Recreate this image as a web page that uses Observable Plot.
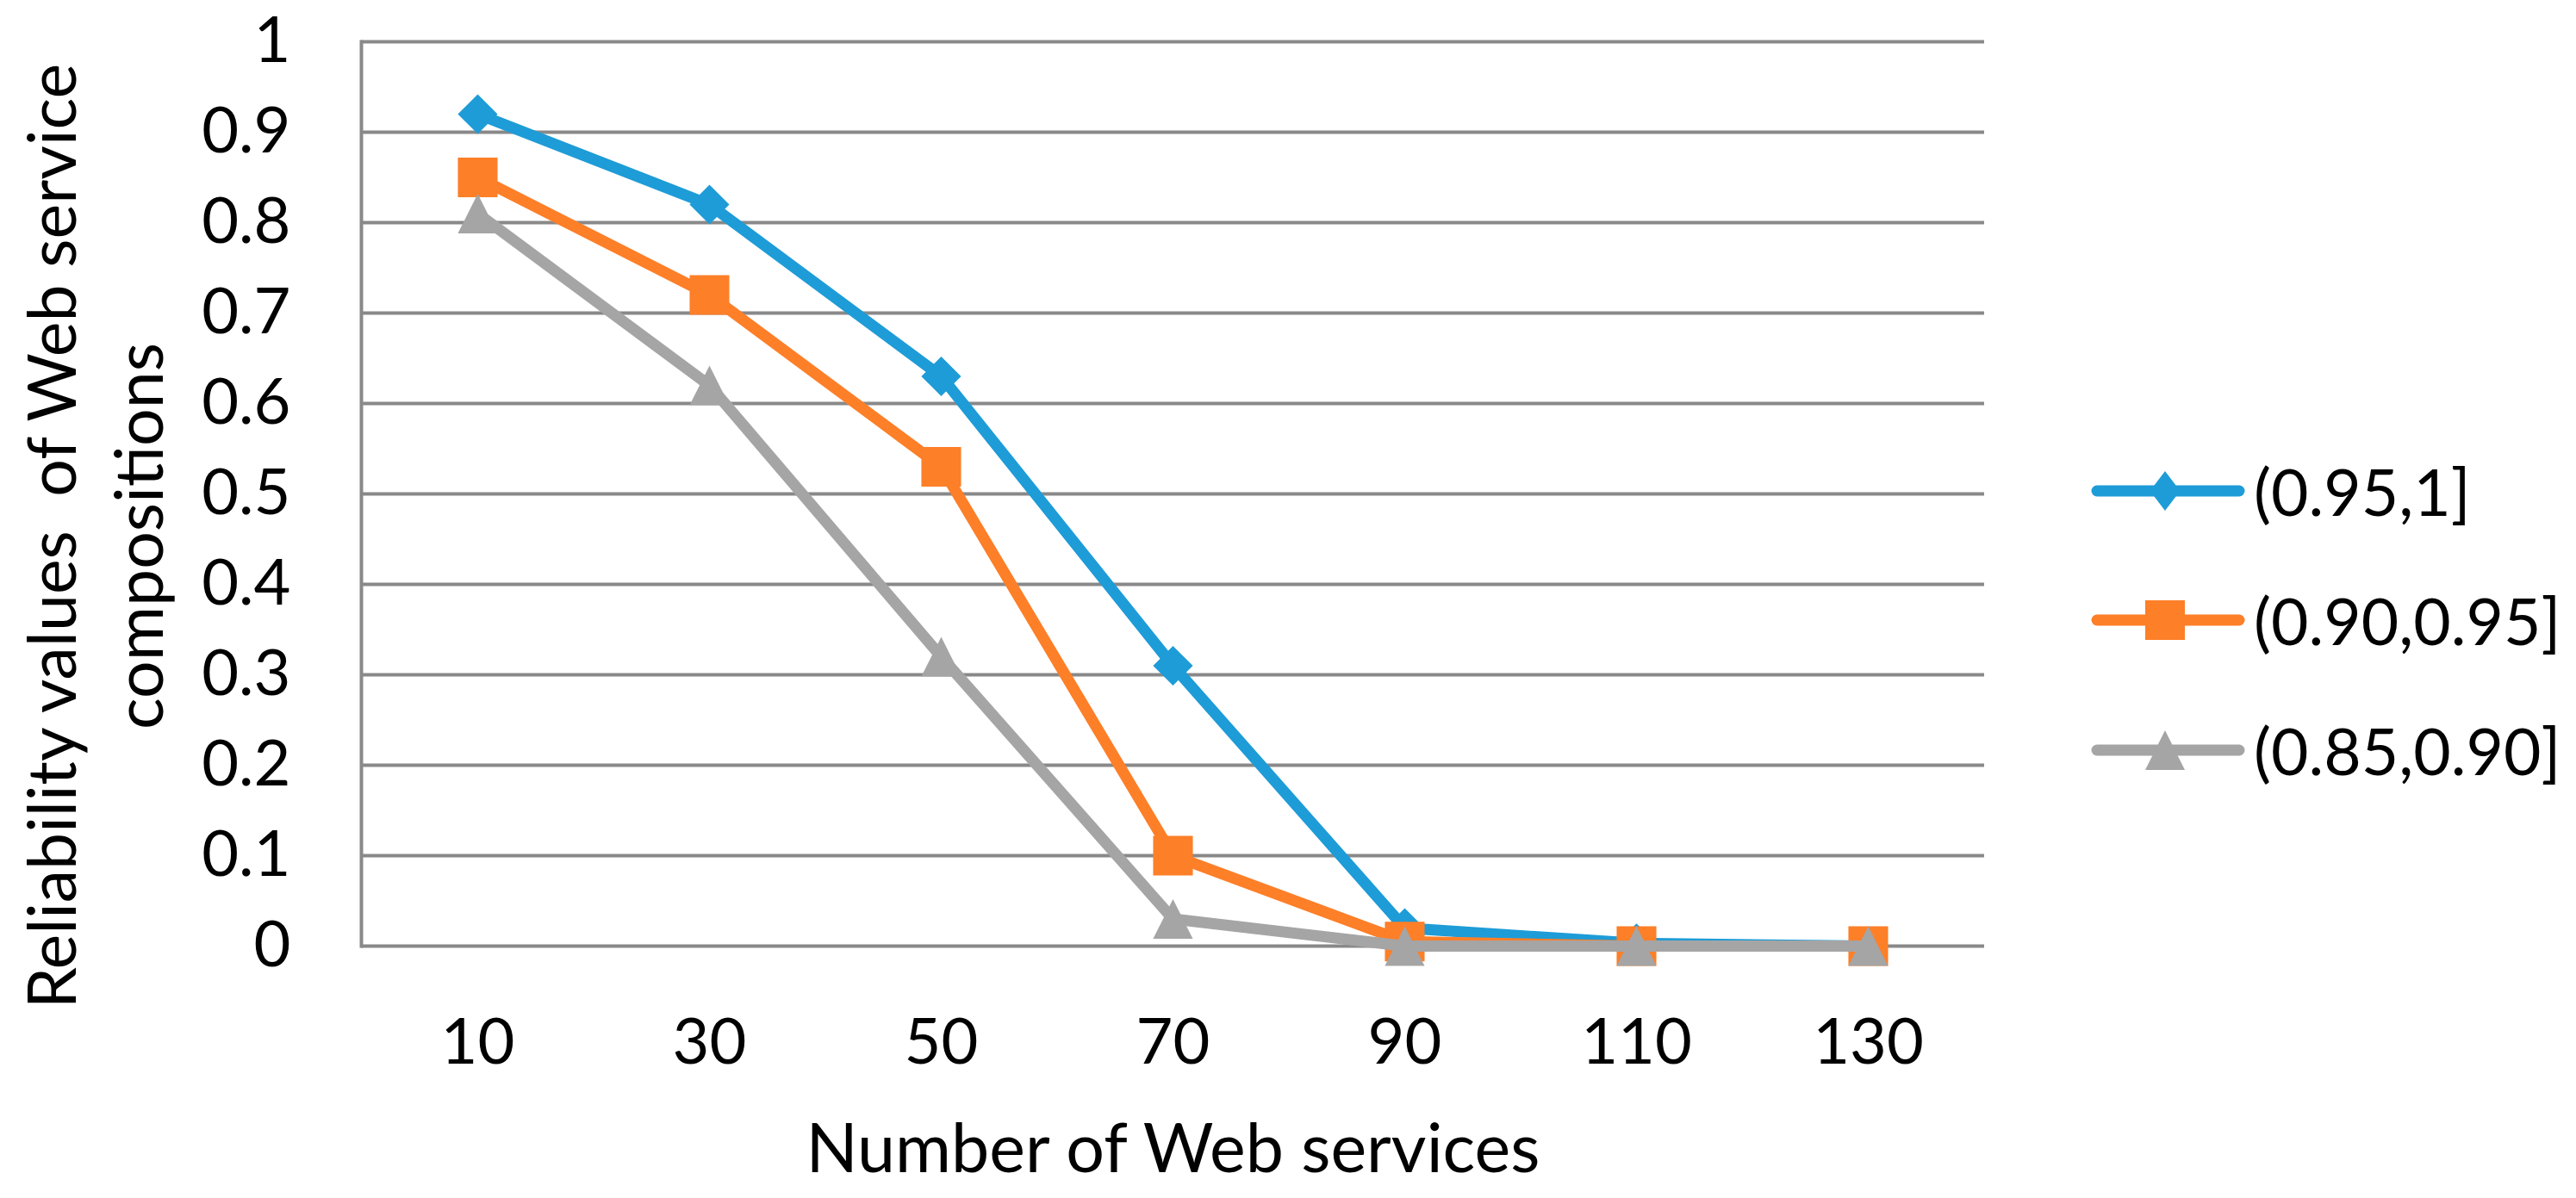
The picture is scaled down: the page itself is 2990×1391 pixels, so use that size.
<!DOCTYPE html>
<html>
<head>
<meta charset="utf-8">
<script src="https://cdn.jsdelivr.net/npm/d3@7"></script>
<script src="https://cdn.jsdelivr.net/npm/@observablehq/plot@0.6"></script>
<style>
  html, body { margin: 0; padding: 0; background: #fff; }
  #wrap { position: relative; width: 2990px; height: 1391px; overflow: hidden; font-family: Lato, sans-serif; }
  #legend { position: absolute; left: 0; top: 0; }
  .lrow { position: absolute; left: 2420px; height: 60px; display: flex; align-items: center; }
  .lrow span { font-size: 75px; color: #000; margin-left: 8px; line-height: 60px; white-space: nowrap; }
</style>
</head>
<body>
<div id="wrap"><div id="legend"></div></div>
<script>
// ---- data ----
const xCats = [10, 30, 50, 70, 90, 110, 130];
const yTicks = [0, 0.1, 0.2, 0.3, 0.4, 0.5, 0.6, 0.7, 0.8, 0.9, 1];
const yTickLabels = ["0", "0.1", "0.2", "0.3", "0.4", "0.5", "0.6", "0.7", "0.8", "0.9", "1"];
const seriesNames = ["(0.95,1]", "(0.90,0.95]", "(0.85,0.90]"];
const seriesA = [0.92, 0.82, 0.63, 0.31, 0.02, 0.003, 0];
const seriesB = [0.85, 0.72, 0.53, 0.10, 0.005, 0, 0];
const seriesC = [0.81, 0.62, 0.32, 0.03, 0, 0, 0];
const seriesColors = ["#1e9cd7", "#fd7f28", "#a5a5a5"];
const xTitle = "Number of Web services";
const yTitleLines = ["Reliability values  of Web service", "compositions"];

// ---- symbols ----
function makeDiamond(ratio) {
  return { draw(ctx, size) { const h = Math.sqrt(size) / 2; const w = h * ratio; ctx.moveTo(0, -h); ctx.lineTo(w, 0); ctx.lineTo(0, h); ctx.lineTo(-w, 0); ctx.closePath(); } };
}
const squareSym = { draw(ctx, size) { const h = Math.sqrt(size) / 2; ctx.rect(-h, -h, 2 * h, 2 * h); } };
const triangleSym = { draw(ctx, size) { const h = Math.sqrt(size) / 2; ctx.moveTo(0, -h); ctx.lineTo(h, h); ctx.lineTo(-h, h); ctx.closePath(); } };
const plotSymbols = [makeDiamond(1.0), squareSym, triangleSym];
const legendSymbols = [makeDiamond(0.76), squareSym, triangleSym];

const allSeries = [seriesA, seriesB, seriesC];
const tables = allSeries.map((vals, s) => xCats.map((x, i) => ({x, y: vals[i], series: seriesNames[s]})));

const seriesMarks = tables.flatMap((t, s) => [
  Plot.line(t, {x: "x", y: "y", stroke: seriesColors[s], strokeWidth: 13, strokeLinejoin: "round", strokeLinecap: "round"}),
  Plot.dot(t, {x: "x", y: "y", symbol: () => plotSymbols[s], r: 26, fill: seriesColors[s], stroke: "none"})
]);

const chart = Plot.plot({
  width: 2990,
  height: 1391,
  marginLeft: 419,
  marginRight: 687,
  marginTop: 48,
  marginBottom: 293,
  x: {type: "point", domain: xCats, padding: 0.5},
  y: {domain: [0, 1]},
  symbol: {type: "identity"},
  style: {fontFamily: "Lato, sans-serif", fontSize: "74px", color: "#000", background: "white", overflow: "visible"},
  marks: [
    Plot.gridY(yTicks, {stroke: "#898989", strokeOpacity: 1, strokeWidth: 4}),
    Plot.frame({anchor: "left", stroke: "#898989", strokeWidth: 4}),
    Plot.axisY(yTicks, {tickSize: 0, tickPadding: 82, tickFormat: (d) => yTickLabels[yTicks.indexOf(d)], label: null, fontSize: 74}),
    Plot.axisX({tickSize: 0, tickPadding: 84, label: null, fontSize: 74}),
    ...seriesMarks,
    Plot.text([xTitle], {frameAnchor: "bottom", lineAnchor: "bottom", dy: 262, fontSize: 79, fill: "#000"}),
    Plot.text([yTitleLines[0]], {frameAnchor: "left", textAnchor: "middle", lineAnchor: "bottom", rotate: -90, dx: -332, dy: 49, fontSize: 77, fill: "#000"}),
    Plot.text([yTitleLines[1]], {frameAnchor: "left", textAnchor: "middle", lineAnchor: "bottom", rotate: -90, dx: -231, dy: 49, fontSize: 77, fill: "#000"})
  ]
});
chart.style.position = "absolute";
chart.style.left = "0";
chart.style.top = "0";
document.getElementById("wrap").insertBefore(chart, document.getElementById("legend"));

// ---- legend ----
const legend = d3.select("#legend");
const rowCenters = [570, 720, 871];
seriesNames.forEach((name, s) => {
  const row = legend.append("div").attr("class", "lrow").style("top", (rowCenters[s] - 30) + "px");
  const svg = row.append("svg").attr("width", 188).attr("height", 60);
  svg.append("line").attr("x1", 14).attr("x2", 179).attr("y1", 30).attr("y2", 30)
    .attr("stroke", seriesColors[s]).attr("stroke-width", 13).attr("stroke-linecap", "round");
  const p = d3.path();
  legendSymbols[s].draw(p, 46 * 46);
  svg.append("path").attr("d", p.toString()).attr("transform", "translate(93,30)").attr("fill", seriesColors[s]);
  row.append("span").text(name);
});
</script>
</body>
</html>
